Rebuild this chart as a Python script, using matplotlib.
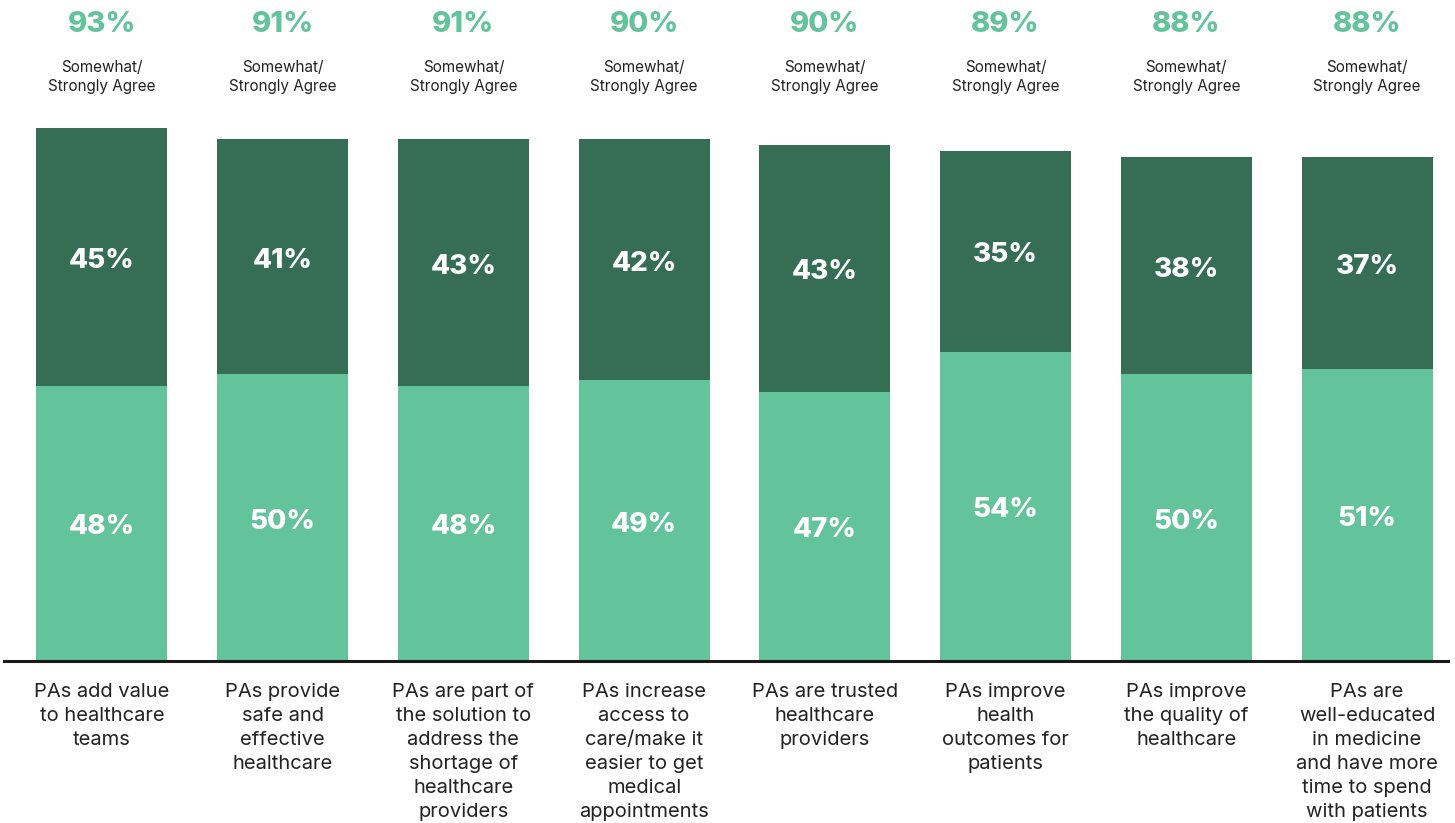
import matplotlib.pyplot as plt
import numpy as np

categories = [
    'PAs add value\nto healthcare\nteams',
    'PAs provide\nsafe and\neffective\nhealthcare',
    'PAs are part of\nthe solution to\naddress the\nshortage of\nhealthcare\nproviders',
    'PAs increase\naccess to\ncare/make it\neasier to get\nmedical\nappointments',
    'PAs are trusted\nhealthcare\nproviders',
    'PAs improve\nhealth\noutcomes for\npatients',
    'PAs improve\nthe quality of\nhealthcare',
    'PAs are\nwell-educated\nin medicine\nand have more\ntime to spend\nwith patients',
]
somewhat = [48, 50, 48, 49, 47, 54, 50, 51]
strongly = [45, 41, 43, 42, 43, 35, 38, 37]
totals = [93, 91, 91, 90, 90, 89, 88, 88]

light = '#63c39b'
dark = '#366e55'
plt.rcParams['font.family'] = ['Inter', 'DejaVu Sans']

fig = plt.figure(figsize=(14.55, 8.23), dpi=100)
# axes spans baseline (y=661px) up to top of tallest bar (y=128px)
ax = fig.add_axes([4 / 1455, (823 - 661) / 823, 1444 / 1455, 533 / 823])

x = np.arange(len(categories))
ax.bar(x, somewhat, width=0.725, color=light)
ax.bar(x, strongly, width=0.725, bottom=somewhat, color=dark)

for i in range(len(categories)):
    ax.text(x[i], somewhat[i] / 2 - 0.7, f'{somewhat[i]}%', ha='center', va='center',
            color='white', fontsize=20, fontweight='heavy')
    ax.text(x[i], somewhat[i] + strongly[i] / 2 - 0.7, f'{strongly[i]}%', ha='center',
            va='center', color='white', fontsize=20, fontweight='heavy')
    ax.text(x[i], 111.0, f'{totals[i]}%', ha='center', va='center',
            color=light, fontsize=21, fontweight='heavy', clip_on=False)
    ax.text(x[i], 101.9, 'Somewhat/\nStrongly Agree', ha='center', va='center',
            color='#222222', fontsize=11, linespacing=1.35, clip_on=False)

ax.set_xlim(-0.542, 7.448)
ax.set_ylim(0, 93)
ax.set_xticks(x)
ax.set_xticklabels(categories, fontsize=14.5, color='#222222', linespacing=1.42)
ax.tick_params(axis='x', length=0, pad=16)
ax.set_yticks([])
for s in ['top', 'left', 'right']:
    ax.spines[s].set_visible(False)
ax.spines['bottom'].set_linewidth(2.2)
ax.spines['bottom'].set_color('#1a1a1a')

fig.savefig('out.png', dpi=100)
